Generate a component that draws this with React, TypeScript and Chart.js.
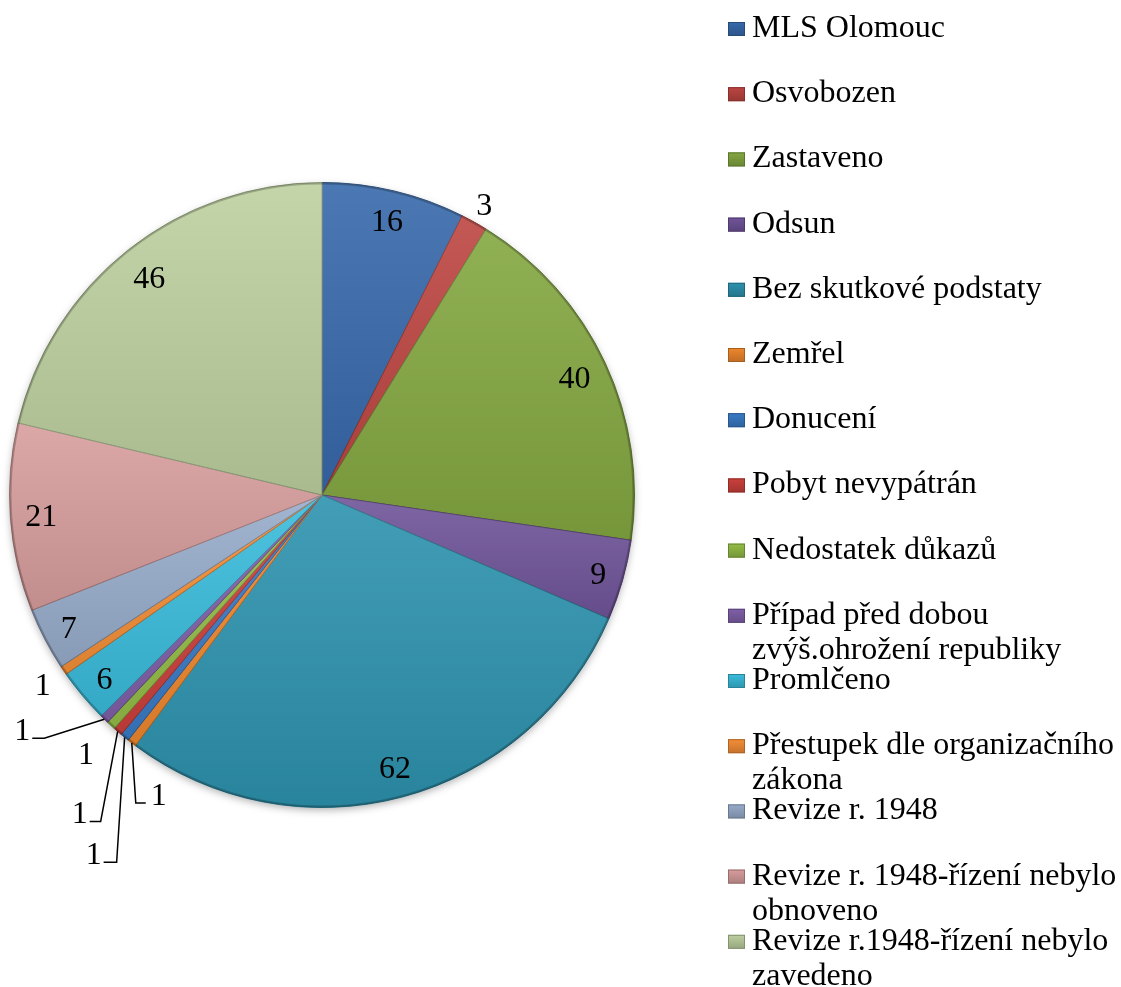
import React, { useEffect, useRef } from "react";
import { Chart, registerables } from "chart.js";

Chart.register(...registerables);

// ---- data ----
const categories: string[] = [
  "MLS Olomouc",
  "Osvobozen",
  "Zastaveno",
  "Odsun",
  "Bez skutkové podstaty",
  "Zemřel",
  "Donucení",
  "Pobyt nevypátrán",
  "Nedostatek důkazů",
  "Případ před dobou\nzvýš.ohrožení republiky",
  "Promlčeno",
  "Přestupek dle organizačního\nzákona",
  "Revize r. 1948",
  "Revize r. 1948-řízení nebylo\nobnoveno",
  "Revize r.1948-řízení nebylo\nzavedeno",
];

const values: number[] = [16, 3, 40, 9, 62, 1, 1, 1, 1, 1, 6, 1, 7, 21, 46];

const colors: string[] = [
  "#3769AB",
  "#BD4541",
  "#84A741",
  "#70549A",
  "#2D92AE",
  "#EF872D",
  "#3A7BC6",
  "#CC403C",
  "#93BD47",
  "#8060A9",
  "#3ABCDC",
  "#F58F37",
  "#97ACCB",
  "#D89D9D",
  "#BDD09F",
];

// label placement (annotation layout, not data)
type Lay =
  | { mode: "in" }
  | { mode: "out"; gap: number }
  | { mode: "leader"; dx: number; dy: number; tail: number };

const labelLayout: Lay[] = [
  { mode: "in" },
  { mode: "out", gap: 5 },
  { mode: "in" },
  { mode: "in" },
  { mode: "in" },
  { mode: "leader", dx: 4, dy: 60, tail: 10 },
  { mode: "leader", dx: -8, dy: 125, tail: -13 },
  { mode: "leader", dx: -17, dy: 90, tail: -11 },
  { mode: "out", gap: 22 },
  { mode: "leader", dx: -60, dy: 19, tail: -12 },
  { mode: "in" },
  { mode: "out", gap: 11 },
  { mode: "in" },
  { mode: "in" },
  { mode: "in" },
];

const FONT = '32px "Liberation Serif", "Times New Roman", serif';

function darken(hex: string, f: number): string {
  const n = parseInt(hex.slice(1), 16);
  const r = Math.round(((n >> 16) & 255) * f);
  const g = Math.round(((n >> 8) & 255) * f);
  const b = Math.round((n & 255) * f);
  return `rgb(${r},${g},${b})`;
}

function sectorYRange(y: number, R: number, a0: number, a1: number): [number, number] {
  const ys = [y, y + R * Math.sin(a0), y + R * Math.sin(a1)];
  for (let k = -2; k <= 4; k++) {
    const t = Math.PI / 2 + k * Math.PI;
    if (t > a0 && t < a1) ys.push(y + R * Math.sin(t));
  }
  return [Math.min(...ys), Math.max(...ys)];
}

const shadePlugin = {
  id: "shade",
  beforeDatasetsDraw(chart: any) {
    const ctx: CanvasRenderingContext2D = chart.ctx;
    const arc = chart.getDatasetMeta(0).data[0];
    if (!arc) return;
    const { x, y, outerRadius } = arc.getProps(["x", "y", "outerRadius"], true);
    ctx.save();
    ctx.shadowColor = "rgba(0,0,0,0.35)";
    ctx.shadowBlur = 8;
    ctx.shadowOffsetY = 3;
    ctx.fillStyle = "#888";
    ctx.beginPath();
    ctx.arc(x, y, outerRadius - 1, 0, Math.PI * 2);
    ctx.fill();
    ctx.restore();
  },
  afterDatasetsDraw(chart: any) {
    const ctx: CanvasRenderingContext2D = chart.ctx;
    const meta = chart.getDatasetMeta(0);
    ctx.save();
    meta.data.forEach((arc: any) => {
      const { x, y, startAngle, endAngle, outerRadius } = arc.getProps(
        ["x", "y", "startAngle", "endAngle", "outerRadius"],
        true
      );
      const [y0, y1] = sectorYRange(y, outerRadius, startAngle, endAngle);
      const g = ctx.createLinearGradient(0, y0, 0, y1);
      g.addColorStop(0, "rgba(255,255,255,0.10)");
      g.addColorStop(1, "rgba(0,0,0,0.10)");
      ctx.fillStyle = g;
      ctx.beginPath();
      ctx.moveTo(x, y);
      ctx.arc(x, y, outerRadius, startAngle, endAngle);
      ctx.closePath();
      ctx.fill();
    });
    const a0 = meta.data[0];
    if (a0) {
      const { x, y, outerRadius } = a0.getProps(["x", "y", "outerRadius"], true);
      ctx.strokeStyle = "rgba(0,0,0,0.22)";
      ctx.lineWidth = 2;
      ctx.beginPath();
      ctx.arc(x, y, outerRadius - 1, 0, Math.PI * 2);
      ctx.stroke();
    }
    ctx.restore();
  },
};

const labelPlugin = {
  id: "sliceLabels",
  afterDatasetsDraw(chart: any) {
    const ctx: CanvasRenderingContext2D = chart.ctx;
    const meta = chart.getDatasetMeta(0);
    ctx.save();
    ctx.font = FONT;
    ctx.fillStyle = "#000";
    ctx.strokeStyle = "#000";
    ctx.lineWidth = 1.5;
    ctx.textBaseline = "alphabetic";
    const capHalf = 11;
    meta.data.forEach((arc: any, i: number) => {
      const { x, y, startAngle, endAngle, outerRadius } = arc.getProps(
        ["x", "y", "startAngle", "endAngle", "outerRadius"],
        true
      );
      const a = (startAngle + endAngle) / 2;
      const c = Math.cos(a);
      const s = Math.sin(a);
      const text = String(values[i]);
      const w = ctx.measureText(text).width;
      const h = 26;
      const half = Math.abs(c) * (w / 2) + Math.abs(s) * (h / 2);
      const lay = labelLayout[i];
      if (lay.mode === "in" || lay.mode === "out") {
        const r =
          lay.mode === "in"
            ? outerRadius - 14 - half
            : outerRadius + lay.gap + half;
        ctx.textAlign = "center";
        ctx.fillText(text, x + r * c, y + r * s + capHalf);
      } else {
        const ax = x + outerRadius * c;
        const ay = y + outerRadius * s;
        const ex = ax + lay.dx;
        const ey = ay + lay.dy;
        const tx = ex + lay.tail;
        ctx.beginPath();
        ctx.moveTo(ax, ay);
        ctx.lineTo(ex, ey);
        ctx.lineTo(tx, ey);
        ctx.stroke();
        if (lay.tail >= 0) {
          ctx.textAlign = "left";
          ctx.fillText(text, tx + 5, ey + 2);
        } else {
          ctx.textAlign = "right";
          ctx.fillText(text, tx - 2, ey + 2);
        }
      }
    });
    ctx.restore();
  },
};

const legendPlugin = {
  id: "sideLegend",
  afterDraw(chart: any) {
    const ctx: CanvasRenderingContext2D = chart.ctx;
    ctx.save();
    ctx.font = FONT;
    ctx.textAlign = "left";
    ctx.textBaseline = "alphabetic";
    categories.forEach((cat, i) => {
      const base = 37 + i * 65.2;
      const col = colors[i];
      const g = ctx.createLinearGradient(0, base - 15, 0, base - 1);
      g.addColorStop(0, col);
      g.addColorStop(1, darken(col, 0.8));
      ctx.fillStyle = g;
      ctx.fillRect(728, base - 15, 17, 14);
      ctx.strokeStyle = darken(col, 0.7);
      ctx.lineWidth = 1;
      ctx.strokeRect(728.5, base - 14.5, 16, 13);
      ctx.fillStyle = "#000";
      cat.split("\n").forEach((line, k) => {
        ctx.fillText(line, 752, base + k * 35);
      });
    });
    ctx.restore();
  },
};

export default function App() {
  const ref = useRef<HTMLCanvasElement | null>(null);
  useEffect(() => {
    if (!ref.current) return;
    const chart = new Chart(ref.current, {
      type: "pie",
      data: {
        labels: categories.map((c) => c.replace("\n", " ")),
        datasets: [
          {
            data: values,
            backgroundColor: colors,
            borderColor: colors.map((c) => darken(c, 0.75)),
            borderWidth: 1,
          },
        ],
      },
      options: {
        responsive: false,
        animation: false,
        devicePixelRatio: 1,
        layout: { padding: { left: 9, right: 486, top: 182, bottom: 179 } },
        plugins: {
          legend: { display: false },
          tooltip: { enabled: false },
        },
      },
      plugins: [shadePlugin, labelPlugin, legendPlugin],
    } as any);
    return () => chart.destroy();
  }, []);
  return (
    <div style={{ position: "absolute", left: 0, top: 0, width: 1121, height: 987, background: "#fff" }}>
      <canvas ref={ref} width={1121} height={987} />
    </div>
  );
}
